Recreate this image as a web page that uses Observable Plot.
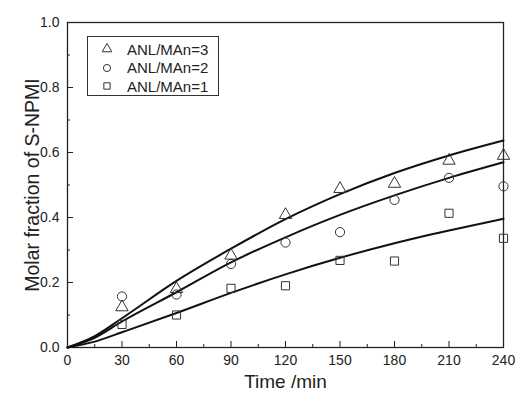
<!DOCTYPE html>
<html>
<head>
<meta charset="utf-8">
<script src="https://cdn.jsdelivr.net/npm/d3@7"></script>
<script src="https://cdn.jsdelivr.net/npm/@observablehq/plot@0.6"></script>
<style>
  html, body { margin: 0; padding: 0; background: #fff; }
  #wrap { position: relative; width: 517px; height: 396px; font-family: "Liberation Sans", Arial, sans-serif; }
  #legend { position: absolute; left: 87px; top: 36px; width: 132px; height: 60px; border: 1px solid #333; background: #fff;
            font-size: 15px; color: #222; box-sizing: border-box; padding-top: 3px; }
  #legend .row { display: flex; align-items: center; height: 18.5px; }
  #legend svg { margin-left: 13px; margin-right: 14px; }
</style>
</head>
<body>
<div id="wrap"><div id="chart"></div><div id="legend"></div></div>
<script>
const times = [30, 60, 90, 120, 150, 180, 210, 240];
const obs3 = [0.124, 0.18, 0.283, 0.408, 0.488, 0.504, 0.575, 0.59];
const obs2 = [0.157, 0.163, 0.257, 0.323, 0.355, 0.454, 0.522, 0.496];
const obs1 = [0.071, 0.10, 0.182, 0.19, 0.268, 0.266, 0.413, 0.336];

const fitTimes = [0, 15, 30, 60, 90, 120, 150, 180, 210, 240];
const fit3 = [0, 0.035, 0.09, 0.205, 0.304, 0.395, 0.472, 0.537, 0.591, 0.637];
const fit2 = [0, 0.03, 0.08, 0.17, 0.262, 0.339, 0.408, 0.468, 0.522, 0.570];
const fit1 = [0, 0.018, 0.047, 0.106, 0.168, 0.225, 0.276, 0.321, 0.36, 0.396];

const seriesNames = ["ANL/MAn=3", "ANL/MAn=2", "ANL/MAn=1"];
const seriesSymbols = ["triangle", "circle", "square"];
const obsSets = [obs3, obs2, obs1];
const fitSets = [fit3, fit2, fit1];

const xTicks = [0, 30, 60, 90, 120, 150, 180, 210, 240];
const xMinor = [15, 45, 75, 105, 135, 165, 195, 225];
const yTicks = [0, 0.2, 0.4, 0.6, 0.8, 1.0];
const yMinor = [0.1, 0.3, 0.5, 0.7, 0.9];

const points = obsSets.flatMap((arr, s) => arr.map((v, i) => ({t: times[i], v, s: seriesNames[s], sym: seriesSymbols[s]})));
const curves = fitSets.flatMap((arr, s) => arr.map((v, i) => ({t: fitTimes[i], v, s: seriesNames[s]})));

const ink = "#222";
const chart = Plot.plot({
  width: 517, height: 396,
  marginLeft: 67, marginRight: 14, marginTop: 22, marginBottom: 49,
  style: {fontFamily: "Liberation Sans, Arial, sans-serif", fontSize: "14px", color: ink, background: "#fff"},
  x: {domain: [0, 240]},
  y: {domain: [0, 1]},
  marks: [
    Plot.axisX({ticks: xTicks, tickSize: -6, tickPadding: 14, tickFormat: d => String(d), label: null, stroke: ink, strokeOpacity: 1, fontSize: 14}),
    Plot.axisX({ticks: xMinor, tickSize: -3, tickFormat: () => "", label: null, stroke: ink, strokeOpacity: 1}),
    Plot.axisY({ticks: yTicks, tickSize: -6, tickPadding: 14, tickFormat: d3.format(".1f"), label: null, stroke: ink, strokeOpacity: 1, fontSize: 14}),
    Plot.axisY({ticks: yMinor, tickSize: -3, tickFormat: () => "", label: null, stroke: ink, strokeOpacity: 1}),
    Plot.frame({stroke: ink, strokeWidth: 1.3}),
    Plot.line(curves, {x: "t", y: "v", z: "s", curve: "monotone-x", stroke: "#111", strokeWidth: 2}),
    Plot.dot(points, {x: "t", y: "v", symbol: "sym", r: 4.6, stroke: "#333", strokeWidth: 1, fill: "none"}),
    Plot.text(["Time /min"], {frameAnchor: "bottom", dy: 40, fontSize: 19, fill: ink}),
    Plot.text(["Molar fraction of S-NPMI"], {frameAnchor: "left", textAnchor: "middle", dx: -35, rotate: -90, fontSize: 19.5, fill: ink})
  ]
});
document.getElementById("chart").appendChild(chart);

const legend = document.getElementById("legend");
seriesNames.forEach((name, i) => {
  const row = document.createElement("div");
  row.className = "row";
  const sym = d3.symbol(i === 0 ? d3.symbolTriangle : i === 1 ? d3.symbolCircle : d3.symbolSquare, 40)();
  row.innerHTML = `<svg width="12" height="12" viewBox="-6 -6 12 12"><path d="${sym}" fill="none" stroke="#333" stroke-width="1"/></svg><span>${name}</span>`;
  legend.appendChild(row);
});
</script>
</body>
</html>
